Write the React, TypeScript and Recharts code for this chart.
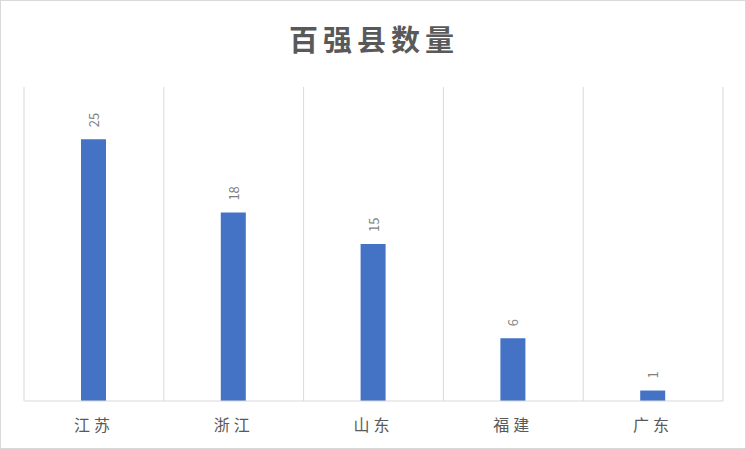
import React from "react";
import { BarChart, Bar, XAxis, YAxis, CartesianGrid, LabelList } from "recharts";

const categories = ["江苏", "浙江", "山东", "福建", "广东"];
const counts = [25, 18, 15, 6, 1];
const yDomain = [0, 30];
const title = "百强县数量";

const data = categories.map((name, i) => ({ name, value: counts[i] }));

const FONT = '"Noto Sans CJK SC", "Microsoft YaHei", sans-serif';

// vertical grid lines at category boundaries, derived from the band scale
const boundaryGenerator = (props: any) => {
  const { xAxis, offset } = props;
  const scale = xAxis && xAxis.scale;
  if (scale && typeof scale === "function" && typeof scale.bandwidth === "function") {
    const bw = scale.bandwidth();
    const pts = categories.map((c) => scale(c));
    pts.push(pts[pts.length - 1] + bw);
    return pts;
  }
  const step = offset.width / categories.length;
  return [...categories.map((_, i) => offset.left + i * step), offset.left + offset.width];
};

const renderLabel = (props: any) => {
  const { x, y, width, value } = props;
  const cx = x + width / 2;
  const sy = y - 12;
  return (
    <text
      x={cx}
      y={sy}
      transform={`rotate(-90 ${cx} ${sy})`}
      textAnchor="start"
      dominantBaseline="central"
      fill="#7f7f7f"
      fontSize={13}
      fontFamily={FONT}
    >
      {value}
    </text>
  );
};

const renderTick = (props: any) => {
  const { x, y, payload } = props;
  return (
    <text
      x={x}
      y={y + 15}
      textAnchor="middle"
      dominantBaseline="central"
      fill="#595959"
      fontSize={16}
      fontFamily={FONT}
      letterSpacing={4}
    >
      {payload.value}
    </text>
  );
};

export default function App() {
  return (
    <div
      style={{
        position: "absolute",
        left: 0,
        top: 0,
        width: 746,
        height: 449,
        background: "#fff",
        boxSizing: "border-box",
        border: "1px solid #d9d9d9",
      }}
    >
      <div
        style={{
          position: "absolute",
          left: 0,
          top: 17,
          width: 746,
          textAlign: "center",
          fontFamily: FONT,
          fontWeight: 700,
          fontSize: 29,
          letterSpacing: 5,
          color: "#595959",
          lineHeight: "40px",
        }}
      >
        {title}
      </div>
      <div style={{ position: "absolute", left: -1, top: -1 }}>
        <BarChart
          width={746}
          height={449}
          data={data}
          margin={{ top: 87, right: 23, left: 24, bottom: 0 }}
        >
          <CartesianGrid
            horizontal={false}
            stroke="#d9d9d9"
            strokeWidth={1}
            verticalCoordinatesGenerator={boundaryGenerator}
          />
          <XAxis
            dataKey="name"
            height={48}
            tickLine={false}
            axisLine={{ stroke: "#d9d9d9" }}
            tick={renderTick}
            interval={0}
          />
          <YAxis hide domain={yDomain} />
          <Bar
            dataKey="value"
            fill="#4472c4"
            barSize={25}
            isAnimationActive={false}
          >
            <LabelList dataKey="value" content={renderLabel} />
          </Bar>
        </BarChart>
      </div>
    </div>
  );
}
